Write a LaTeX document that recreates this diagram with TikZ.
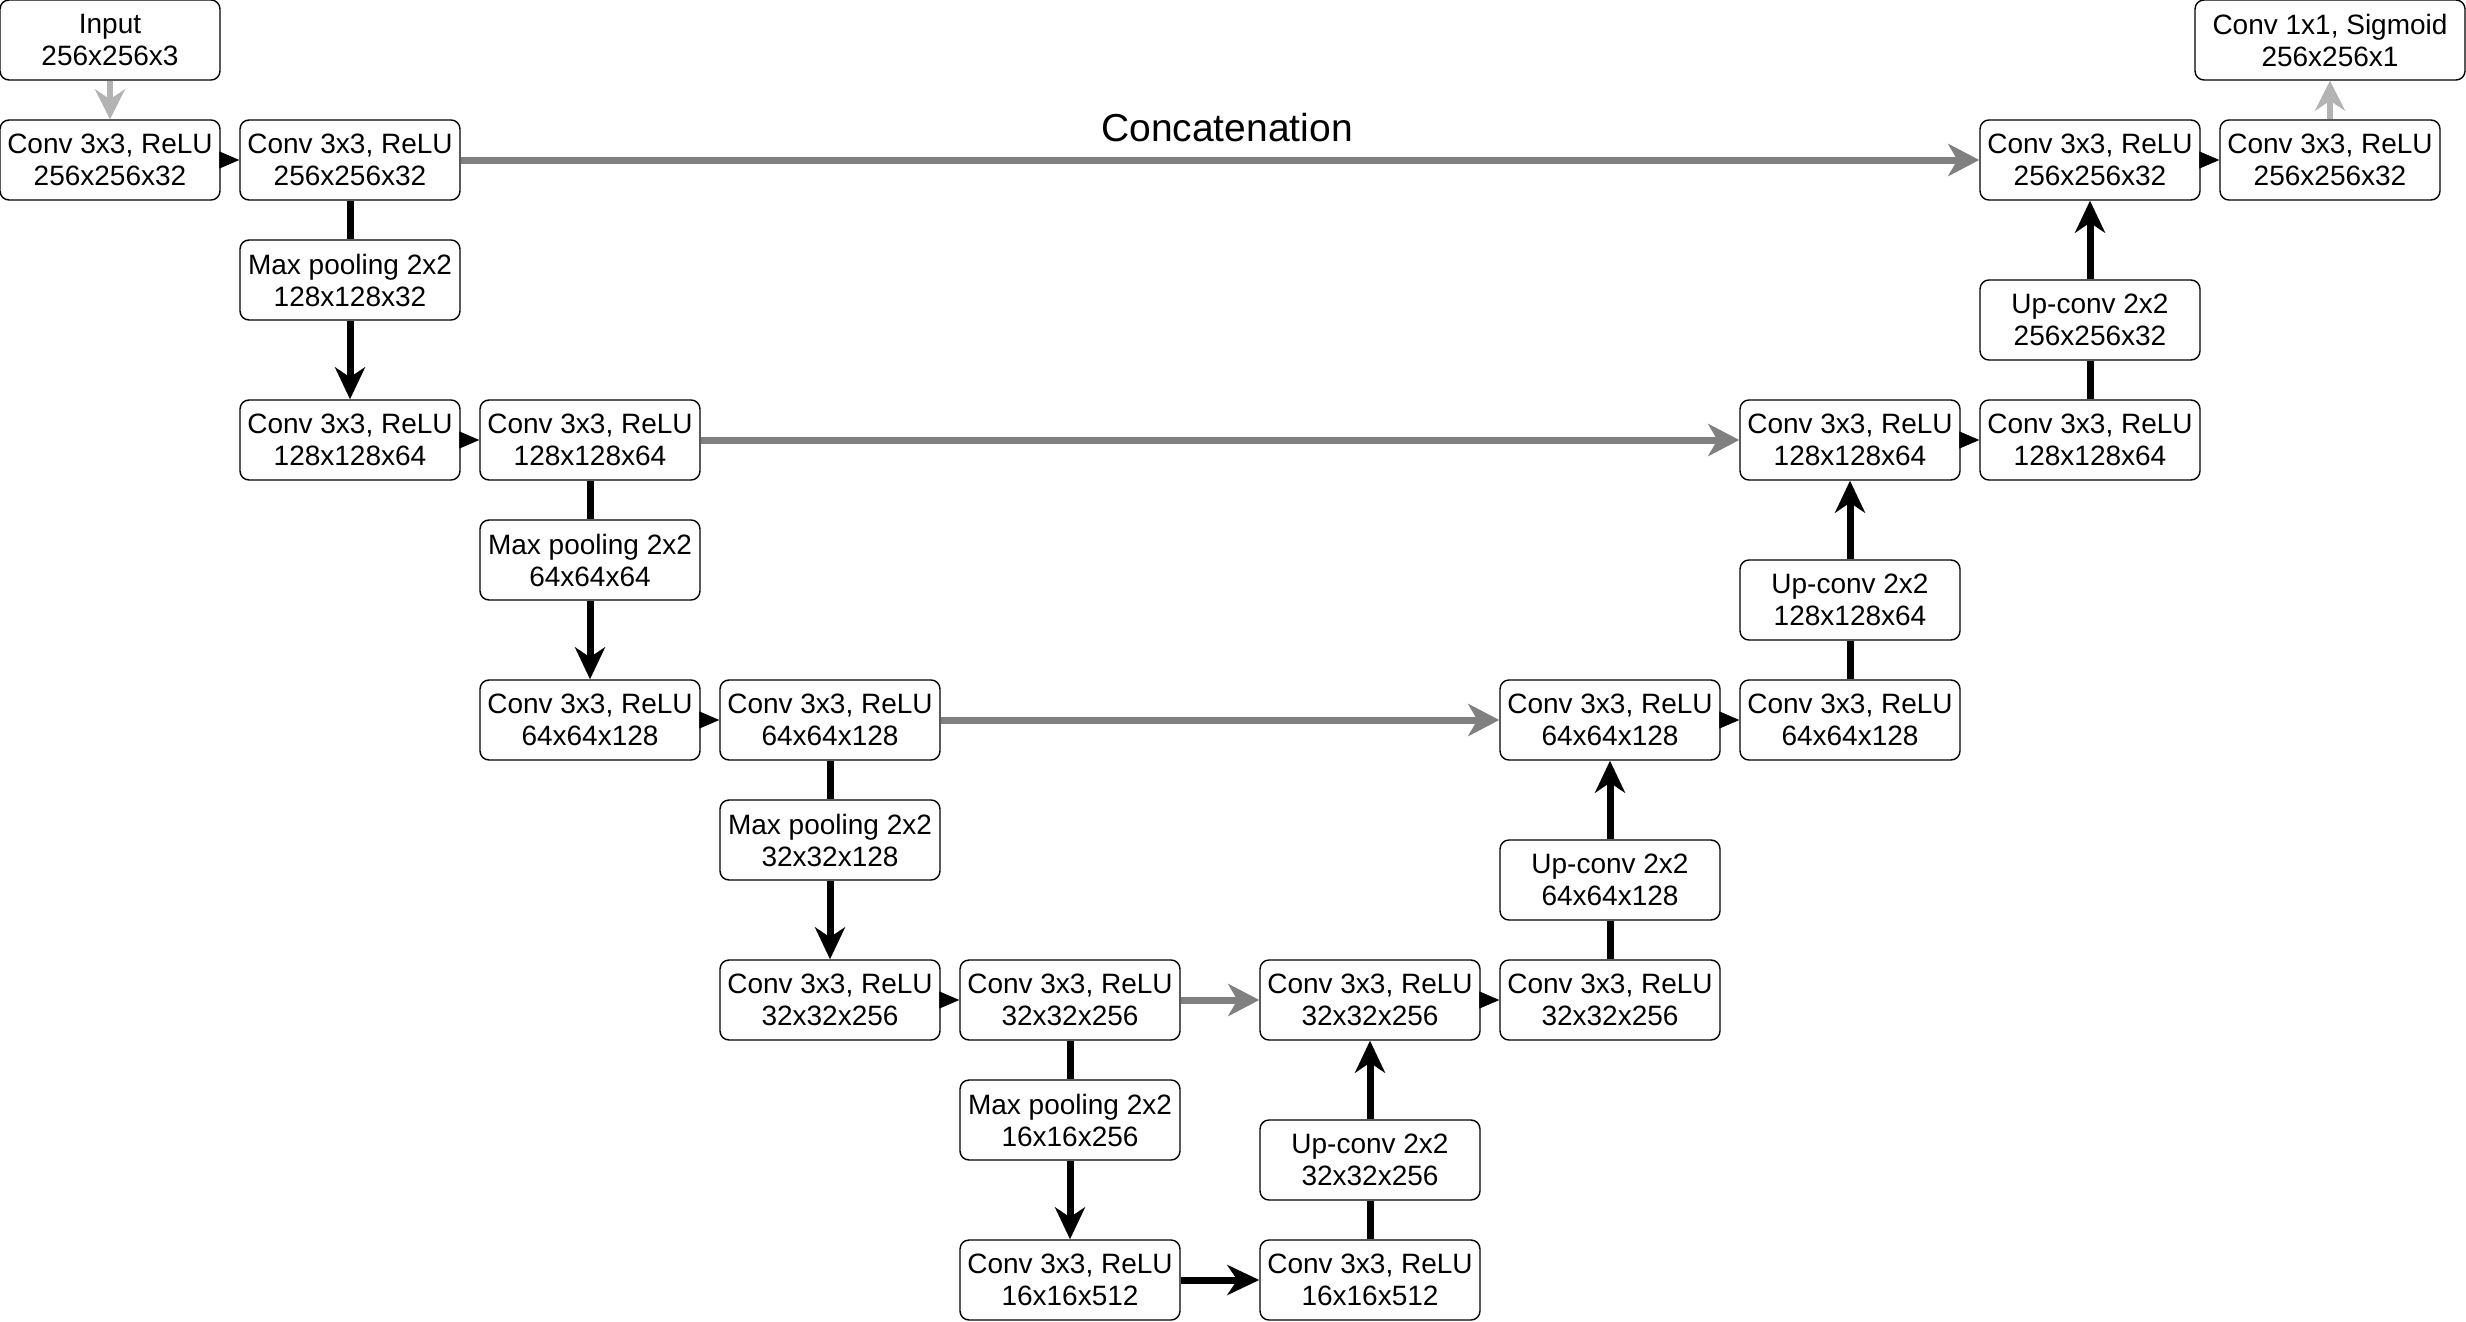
\documentclass[tikz,border=0pt]{standalone}
\usepackage{fontspec}
\setmainfont{Liberation Sans}
\usetikzlibrary{arrows.meta}
\definecolor{concatgray}{HTML}{808080}
\definecolor{iogray}{HTML}{B3B3B3}
\begin{document}
\begin{tikzpicture}[x=1pt,y=-1pt,
  layer/.style={draw=black, line width=1.4pt, rounded corners=9pt,
    minimum width=220pt, minimum height=80pt, inner sep=0pt,
    align=center, font=\fontsize{28}{32}\selectfont},
  flow/.style={line width=7pt, black},
  flowarrow/.style={flow, -{Stealth[length=32pt,width=30pt,inset=10pt]}},
  skip/.style={line width=7pt, concatgray, -{Stealth[length=31pt,width=32pt,inset=9pt]}},
  io/.style={line width=6pt, iogray, -{Stealth[length=30pt,width=30pt,inset=10pt]}},
  next/.style={line width=0.8pt, black, -{Triangle[length=20pt,width=17pt]}}
]
\useasboundingbox (0,0) rectangle (2466,1322);

% input and output
\node[layer] (inp) at (110,40) {Input\\256x256x3};
\node[layer, minimum width=270pt] (out) at (2330,40) {Conv 1x1, Sigmoid\\256x256x1};

% contracting path
\node[layer] (d0a) at (110,160) {Conv 3x3, ReLU\\256x256x32};
\node[layer] (d0b) at (350,160) {Conv 3x3, ReLU\\256x256x32};
\node[layer] (mp0) at (350,280) {Max pooling 2x2\\128x128x32};
\node[layer] (d1a) at (350,440) {Conv 3x3, ReLU\\128x128x64};
\node[layer] (d1b) at (590,440) {Conv 3x3, ReLU\\128x128x64};
\node[layer] (mp1) at (590,560) {Max pooling 2x2\\64x64x64};
\node[layer] (d2a) at (590,720) {Conv 3x3, ReLU\\64x64x128};
\node[layer] (d2b) at (830,720) {Conv 3x3, ReLU\\64x64x128};
\node[layer] (mp2) at (830,840) {Max pooling 2x2\\32x32x128};
\node[layer] (d3a) at (830,1000) {Conv 3x3, ReLU\\32x32x256};
\node[layer] (d3b) at (1070,1000) {Conv 3x3, ReLU\\32x32x256};
\node[layer] (mp3) at (1070,1120) {Max pooling 2x2\\16x16x256};

% bottleneck
\node[layer] (b4a) at (1070,1280) {Conv 3x3, ReLU\\16x16x512};
\node[layer] (b4b) at (1370,1280) {Conv 3x3, ReLU\\16x16x512};

% expanding path
\node[layer] (uc3) at (1370,1160) {Up-conv 2x2\\32x32x256};
\node[layer] (u3a) at (1370,1000) {Conv 3x3, ReLU\\32x32x256};
\node[layer] (u3b) at (1610,1000) {Conv 3x3, ReLU\\32x32x256};
\node[layer] (uc2) at (1610,880) {Up-conv 2x2\\64x64x128};
\node[layer] (u2a) at (1610,720) {Conv 3x3, ReLU\\64x64x128};
\node[layer] (u2b) at (1850,720) {Conv 3x3, ReLU\\64x64x128};
\node[layer] (uc1) at (1850,600) {Up-conv 2x2\\128x128x64};
\node[layer] (u1a) at (1850,440) {Conv 3x3, ReLU\\128x128x64};
\node[layer] (u1b) at (2090,440) {Conv 3x3, ReLU\\128x128x64};
\node[layer] (uc0) at (2090,320) {Up-conv 2x2\\256x256x32};
\node[layer] (u0a) at (2090,160) {Conv 3x3, ReLU\\256x256x32};
\node[layer] (u0b) at (2330,160) {Conv 3x3, ReLU\\256x256x32};

\node[font=\fontsize{39}{44}\selectfont, inner sep=0pt] (cat) at (1227,128) {Concatenation};

% input / output arrows
\draw[io] (inp) -- (d0a);
\draw[io] (u0b) -- (out);

% convolutions within a level
\foreach \a/\b in {d0a/d0b, d1a/d1b, d2a/d2b, d3a/d3b, u3a/u3b, u2a/u2b, u1a/u1b, u0a/u0b}
  \draw[next] (\a) -- (\b);

% down-sampling
\foreach \a/\p/\b in {d0b/mp0/d1a, d1b/mp1/d2a, d2b/mp2/d3a, d3b/mp3/b4a} {
  \draw[flow] (\a) -- (\p);
  \draw[flowarrow] (\p) -- (\b);
}
\draw[flowarrow] (b4a) -- (b4b);

% up-sampling
\foreach \a/\p/\b in {b4b/uc3/u3a, u3b/uc2/u2a, u2b/uc1/u1a, u1b/uc0/u0a} {
  \draw[flow] (\a) -- (\p);
  \draw[flowarrow] (\p) -- (\b);
}

% skip connections
\draw[skip] (d0b) -- (u0a);
\draw[skip] (d1b) -- (u1a);
\draw[skip] (d2b) -- (u2a);
\draw[skip] (d3b) -- (u3a);
\end{tikzpicture}
\end{document}
